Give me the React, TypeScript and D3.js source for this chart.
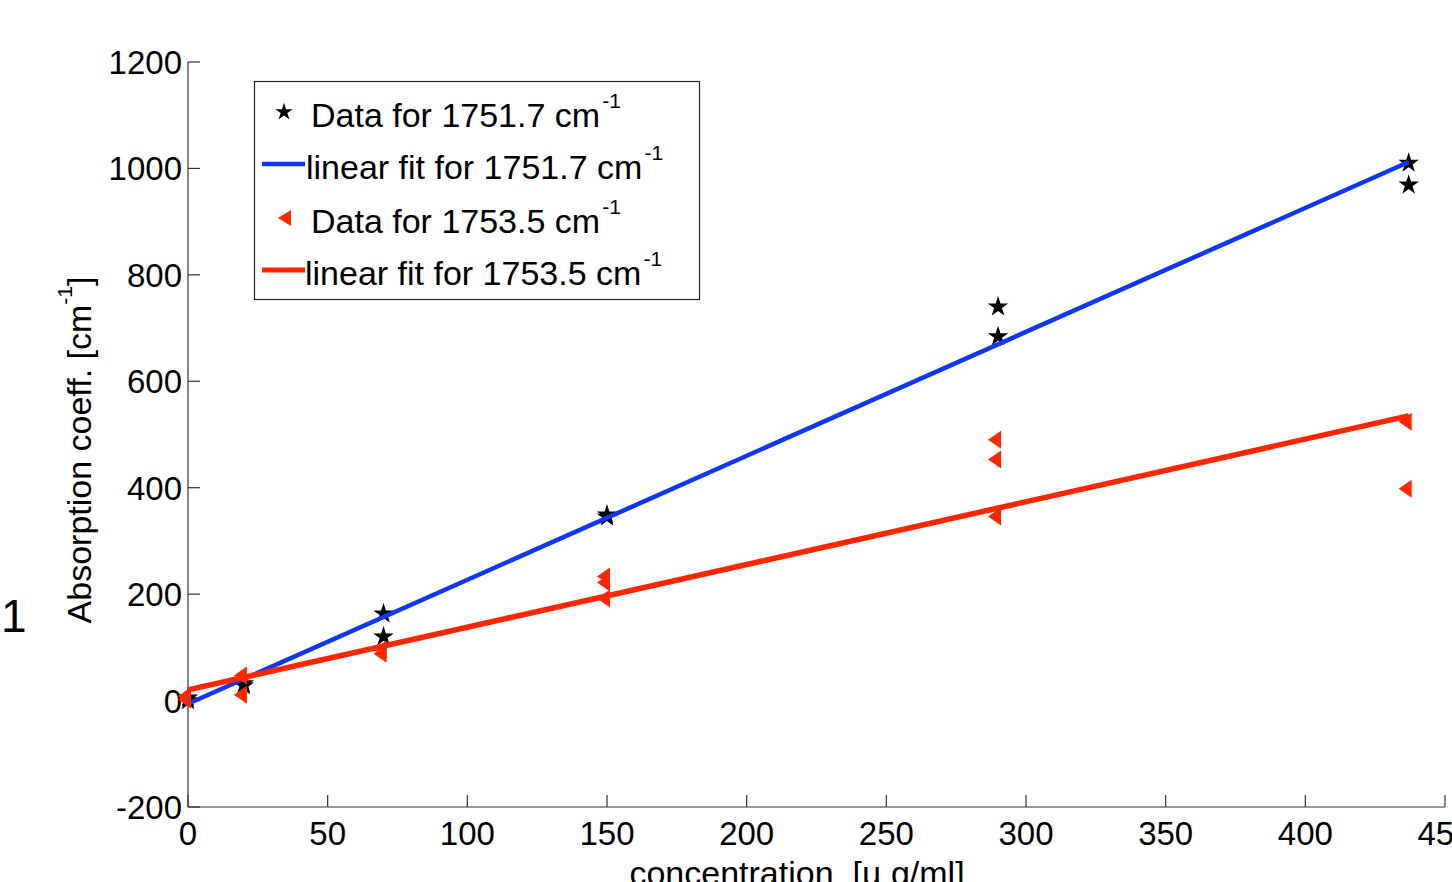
import { useEffect, useRef } from "react";
import * as d3 from "d3";

// concentrations [µg/ml] and absorption coefficients
const starX = [0, 0, 20, 20, 70, 70, 150, 150, 290, 290, 437, 437];
const starY = [0, 5, 28, 32, 163, 120, 349, 345, 740, 684, 1010, 969];

const triX = [0, 0, 20, 20, 70, 70, 150, 150, 150, 290, 290, 290, 437, 437];
const triY = [2, 8, 47, 11, 96, 88, 233, 222, 192, 490, 453, 346, 524, 398];

// fitted lines, end points
const fitX = [0, 437];
const blueFitY = [-6, 1012];
const redFitY = [20, 535];

const xTicks = [0, 50, 100, 150, 200, 250, 300, 350, 400, 450];
const yTicks = [-200, 0, 200, 400, 600, 800, 1000, 1200];

const legendLabels = [
  "Data for 1751.7 cm",
  "linear fit for 1751.7 cm",
  "Data for 1753.5 cm",
  "linear fit for 1753.5 cm",
];

const W = 1452;
const H = 882;
const margin = { left: 188, right: 7, top: 62, bottom: 75 };
const BLUE = "#0f35ff";
const RED = "#ff2600";
const FONT = "'Liberation Sans', Arial, Helvetica, sans-serif";

export default function App() {
  const svgRef = useRef<SVGSVGElement>(null);

  useEffect(() => {
    const svg = d3.select(svgRef.current);
    svg.selectAll("*").remove();

    const x = d3
      .scaleLinear()
      .domain([0, 450])
      .range([margin.left, W - margin.right]);
    const y = d3
      .scaleLinear()
      .domain([-200, 1200])
      .range([H - margin.bottom, margin.top]);

    const x0 = margin.left;
    const y0 = H - margin.bottom;

    // axes (matlab style: ticks inside, box off)
    const axes = svg.append("g").attr("stroke", "#333").attr("stroke-width", 1.2);
    axes.append("line").attr("x1", x0).attr("x2", x0).attr("y1", y(1200)).attr("y2", y0);
    axes.append("line").attr("x1", x0).attr("x2", x(450)).attr("y1", y0).attr("y2", y0);

    axes
      .selectAll(".xt")
      .data(xTicks)
      .enter()
      .append("line")
      .attr("x1", (d) => x(d))
      .attr("x2", (d) => x(d))
      .attr("y1", y0)
      .attr("y2", y0 - 12);

    axes
      .selectAll(".yt")
      .data(yTicks)
      .enter()
      .append("line")
      .attr("x1", x0)
      .attr("x2", x0 + 12)
      .attr("y1", (d) => y(d))
      .attr("y2", (d) => y(d));

    svg
      .append("g")
      .selectAll("text")
      .data(xTicks)
      .enter()
      .append("text")
      .attr("x", (d) => x(d))
      .attr("y", y0 + 38)
      .attr("text-anchor", "middle")
      .attr("font-family", FONT)
      .attr("font-size", 33)
      .text((d) => d);

    svg
      .append("g")
      .selectAll("text")
      .data(yTicks)
      .enter()
      .append("text")
      .attr("x", x0 - 6)
      .attr("y", (d) => y(d) + 12)
      .attr("text-anchor", "end")
      .attr("font-family", FONT)
      .attr("font-size", 33)
      .text((d) => d);

    // axis labels
    svg
      .append("text")
      .attr("x", 797)
      .attr("y", 885)
      .attr("text-anchor", "middle")
      .attr("font-family", FONT)
      .attr("font-size", 34)
      .attr("xml:space", "preserve")
      .text("concentration  [\u00b5 g/ml]");

    const yl = svg
      .append("text")
      .attr("transform", `translate(91,450) rotate(-90)`)
      .attr("text-anchor", "middle")
      .attr("font-family", FONT)
      .attr("font-size", 34);
    yl.append("tspan").text("Absorption coeff. [cm");
    yl.append("tspan").attr("font-size", 21).attr("dy", -19).text("-1");
    yl.append("tspan").attr("dy", 19).text("]");

    svg
      .append("text")
      .attr("x", 1)
      .attr("y", 632)
      .attr("font-family", FONT)
      .attr("font-size", 46)
      .text("1");

    const starData = starX.map((v, i) => [v, starY[i]]);
    const triData = triX.map((v, i) => [v, triY[i]]);

    const star = d3.symbol().type(d3.symbolStar).size(130);
    const tri = "M-10,0L3,-9L3,9Z";

    // data 1751.7
    svg
      .append("g")
      .selectAll("path")
      .data(starData)
      .enter()
      .append("path")
      .attr("transform", (d) => `translate(${x(d[0])},${y(d[1])})`)
      .attr("d", star())
      .attr("fill", "#000");

    const line = d3
      .line<number>()
      .x((d) => x(d));

    svg
      .append("path")
      .attr("d", line.y((d, i) => y(blueFitY[i]))(fitX))
      .attr("fill", "none")
      .attr("stroke", BLUE)
      .attr("stroke-width", 4.5);

    // data 1753.5
    svg
      .append("g")
      .selectAll("path")
      .data(triData)
      .enter()
      .append("path")
      .attr("transform", (d) => `translate(${x(d[0])},${y(d[1])})`)
      .attr("d", tri)
      .attr("fill", RED);

    svg
      .append("path")
      .attr("d", line.y((d, i) => y(redFitY[i]))(fitX))
      .attr("fill", "none")
      .attr("stroke", RED)
      .attr("stroke-width", 5.5);

    // legend
    const lg = svg.append("g");
    lg.append("rect")
      .attr("x", 254.5)
      .attr("y", 81.5)
      .attr("width", 445)
      .attr("height", 218)
      .attr("fill", "#fff")
      .attr("stroke", "#222")
      .attr("stroke-width", 1.2);

    const rowY = [112, 164, 218, 270];
    const textX = [311, 306, 311, 305];

    lg.append("path")
      .attr("transform", `translate(284,${rowY[0]})`)
      .attr("d", d3.symbol().type(d3.symbolStar).size(95)())
      .attr("fill", "#000");
    lg.append("line")
      .attr("x1", 262)
      .attr("x2", 305)
      .attr("y1", rowY[1])
      .attr("y2", rowY[1])
      .attr("stroke", BLUE)
      .attr("stroke-width", 4.5);
    lg.append("path")
      .attr("transform", `translate(287,${rowY[2]})`)
      .attr("d", "M-9,0L4,-8L4,8Z")
      .attr("fill", RED);
    lg.append("line")
      .attr("x1", 262)
      .attr("x2", 305)
      .attr("y1", rowY[3])
      .attr("y2", rowY[3])
      .attr("stroke", RED)
      .attr("stroke-width", 5);

    legendLabels.forEach((lab, i) => {
      const t = lg
        .append("text")
        .attr("x", textX[i])
        .attr("y", rowY[i] + 15)
        .attr("font-family", FONT)
        .attr("font-size", 34);
      t.append("tspan").text(lab);
      t.append("tspan").attr("font-size", 21).attr("dy", -19).attr("dx", 2).text("-1");
    });
  }, []);

  return (
    <svg
      ref={svgRef}
      width={W}
      height={H}
      style={{ position: "absolute", left: 0, top: 0, background: "#fff" }}
    ></svg>
  );
}
